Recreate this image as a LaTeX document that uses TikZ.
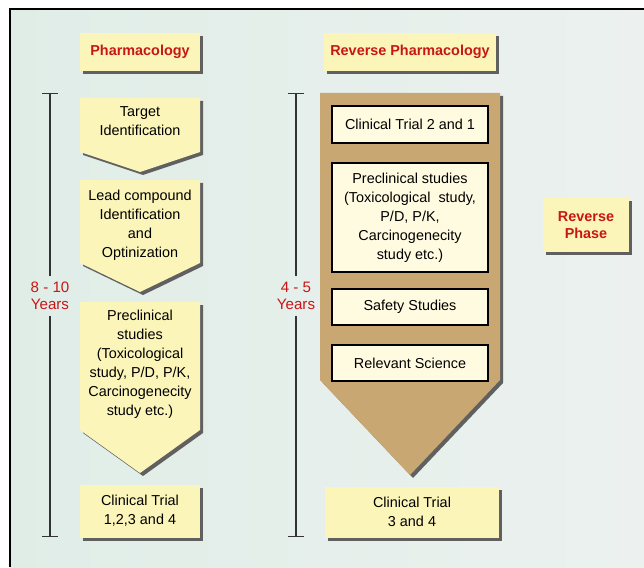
\documentclass[tikz,border=0pt]{standalone}
\usepackage{fontspec}
\setmainfont{Liberation Sans}
\usetikzlibrary{shadows,arrows.meta}
\definecolor{bgmint}{RGB}{224,237,231}
\definecolor{bgpale}{RGB}{236,241,239}
\definecolor{boxyellow}{RGB}{252,245,186}
\definecolor{boxcream}{RGB}{255,251,224}
\definecolor{arrowbrown}{RGB}{200,167,115}
\definecolor{titlered}{RGB}{200,22,22}
\tikzset{
  shade box/.style={drop shadow={shadow xshift=0.06cm, shadow yshift=-0.06cm, fill=gray!75!black, opacity=1}},
  yellowbox/.style={fill=boxyellow, shade box, align=center, inner sep=0pt},
  titletext/.style={font=\fontsize{8.2}{10}\selectfont\bfseries, text=titlered, align=center},
  bodytext/.style={font=\fontsize{8.2}{10.8}\selectfont, align=center},
  innerbox/.style={draw=black, line width=1.1pt, fill=boxcream, minimum width=3.12cm, align=center, inner sep=0pt},
  yearsmark/.style={draw=black!80, line width=0.8pt},
}
\begin{document}
\begin{tikzpicture}[x=0.02cm, y=-0.02cm]
  \useasboundingbox (0,0) rectangle (644,567);
  % fondo y marco
  \shade[left color=bgmint, right color=bgpale] (10,9) rectangle (644,567);
  \draw[line width=1.1pt] (10,567) -- (10,9) -- (644,9);

  %%%% Pharmacology
  \node[yellowbox, titletext, minimum width=2.4cm, minimum height=0.76cm] at (140,52) (pharma) {Pharmacology};
  \fill[boxyellow, shade box] (80,98) -- (200,98) -- (200,152) -- (140,172) -- (80,152) -- cycle;
  \node[bodytext] at (140,121) (target) {Target\\Identification};
  \fill[boxyellow, shade box] (80,180) -- (200,180) -- (200,263) -- (140,292) -- (80,263) -- cycle;
  \node[bodytext] at (140,225) (lead) {Lead compound\\Identification\\and\\Optinization};
  \fill[boxyellow, shade box] (80,302) -- (200,302) -- (200,430) -- (140,473) -- (80,430) -- cycle;
  \node[bodytext] at (140,364) (preclin) {Preclinical\\studies\\(Toxicological\\study, P/D, P/K,\\Carcinogenecity\\study etc.)};
  \node[yellowbox, bodytext, minimum width=2.4cm, minimum height=1.06cm] at (140,511) (clinall) {Clinical Trial\\1,2,3 and 4};

  %%%% Reverse Pharmacology
  \node[yellowbox, titletext, minimum width=3.46cm, minimum height=0.76cm] at (410,52) (revpharma) {Reverse Pharmacology};
  \fill[arrowbrown, shade box] (320,93) -- (500,93) -- (500,380) -- (410,475) -- (320,380) -- cycle;
  \node[innerbox, bodytext, minimum height=0.74cm] at (410,124.5) (clinearly) {Clinical Trial 2 and 1};
  \node[innerbox, bodytext, minimum height=2.18cm] at (410,217.5) (revpreclin) {Preclinical studies\\(Toxicological\ \ study,\\P/D, P/K,\\Carcinogenecity\\study etc.)};
  \node[innerbox, bodytext, minimum height=0.72cm] at (410,307) (safety) {Safety Studies};
  \node[innerbox, bodytext, minimum height=0.72cm] at (410,363) (science) {Relevant Science};
  \node[yellowbox, bodytext, minimum width=3.48cm, minimum height=1.02cm] at (412,512) (clinlate) {Clinical Trial\\3 and 4};

  \node[yellowbox, titletext, minimum width=1.72cm, minimum height=1.08cm] at (586,225) (revphase) {Reverse\\Phase};

  %%%% años
  \node[bodytext, text=titlered, font=\fontsize{8.6}{9.6}\selectfont] at (50,296) (yearslong) {8 - 10\\Years};
  \node[bodytext, text=titlered, font=\fontsize{8.6}{9.6}\selectfont] at (296,296) (yearsshort) {4 - 5\\Years};
  \coordinate (longtop) at (50,93);
  \coordinate (longbot) at (50,537);
  \coordinate (shorttop) at (296,93);
  \coordinate (shortbot) at (296,537);
  \draw[yearsmark, {Bar[width=9pt]}-] (longtop) -- (yearslong.north);
  \draw[yearsmark, -{Bar[width=9pt]}] (yearslong.south) -- (longbot);
  \draw[yearsmark, {Bar[width=9pt]}-] (shorttop) -- (yearsshort.north);
  \draw[yearsmark, -{Bar[width=9pt]}] (yearsshort.south) -- (shortbot);
\end{tikzpicture}
\end{document}
